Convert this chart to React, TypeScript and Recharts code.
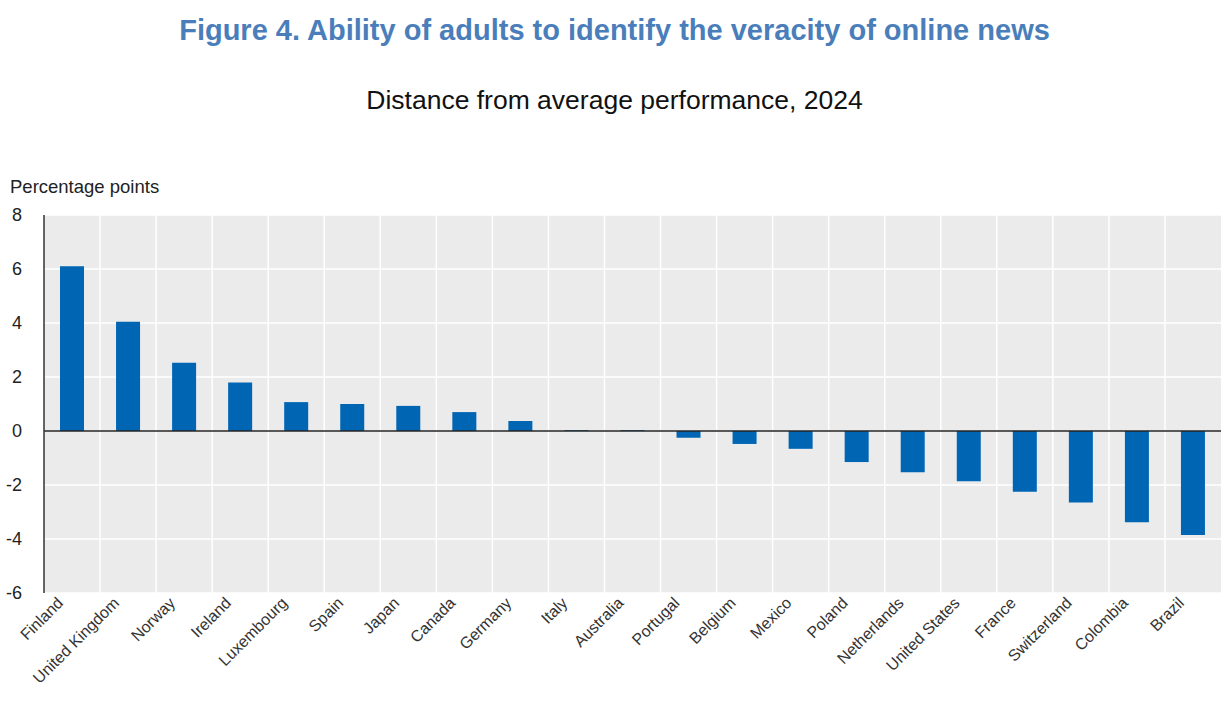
import {
  BarChart, Bar, XAxis, YAxis, CartesianGrid, ReferenceLine,
} from 'recharts';

const COUNTRIES = [
  'Finland', 'United Kingdom', 'Norway', 'Ireland', 'Luxembourg', 'Spain', 'Japan',
  'Canada', 'Germany', 'Italy', 'Australia', 'Portugal', 'Belgium', 'Mexico',
  'Poland', 'Netherlands', 'United States', 'France', 'Switzerland', 'Colombia', 'Brazil',
];

const DISTANCE = [
  6.1, 4.05, 2.53, 1.8, 1.07, 1.0, 0.93,
  0.7, 0.37, 0.03, 0.03, -0.25, -0.48, -0.66,
  -1.15, -1.53, -1.86, -2.25, -2.65, -3.38, -3.85,
];

const Y_TICKS = [-6, -4, -2, 0, 2, 4, 6, 8];

const data = COUNTRIES.map((name, i) => ({ name, value: DISTANCE[i] }));

const SANS = '"Liberation Sans", Arial, sans-serif';

function CountryTick({ x, y, payload }: any) {
  return (
    <g transform={`translate(${x - 8},${y + 3})`}>
      <text textAnchor="end" transform="rotate(-45)" fontSize={16} fill="#333" fontFamily={SANS}>
        {payload.value}
      </text>
    </g>
  );
}

// vertical white lines sit between categories, not on them
function boundaryLines({ offset }: any) {
  const step = offset.width / COUNTRIES.length;
  return COUNTRIES.map((_, i) => offset.left + (i + 1) * step).slice(0, -1);
}

export default function App() {
  return (
    <div style={{ position: 'absolute', left: 0, top: 0, width: 1221, height: 703, background: '#fff' }}>
      <div style={{
        position: 'absolute', top: 14, left: 0, width: 1229, textAlign: 'center',
        fontFamily: SANS, fontWeight: 'bold', fontSize: 29, color: '#4a7ebb',
      }}>
        Figure 4. Ability of adults to identify the veracity of online news
      </div>
      <div style={{
        position: 'absolute', top: 85, left: 0, width: 1229, textAlign: 'center',
        fontFamily: SANS, fontSize: 26.5, color: '#111',
      }}>
        Distance from average performance, 2024
      </div>
      <div style={{
        position: 'absolute', top: 176, left: 10, fontFamily: SANS, fontSize: 18.5, color: '#222',
      }}>
        Percentage points
      </div>

      <div style={{ position: 'absolute', left: 0, top: 0 }}>
        <BarChart width={1221} height={703} data={data}
                  margin={{ top: 215, right: 0, bottom: 0, left: 0 }}>
          <CartesianGrid fill="#ebebeb" stroke="#ffffff" strokeWidth={1.5}
                         verticalCoordinatesGenerator={boundaryLines} />
          <XAxis dataKey="name" interval={0} axisLine={false} tickLine={false}
                 tick={<CountryTick />} height={110} />
          <YAxis domain={[-6, 8]} ticks={Y_TICKS} width={44} interval={0}
                 axisLine={{ stroke: '#333', strokeWidth: 1.5 }} tickLine={false} tickMargin={16}
                 tick={{ fontSize: 18, fill: '#222', fontFamily: SANS }} />
          <ReferenceLine y={0} stroke="#222" strokeWidth={1.5} />
          <Bar dataKey="value" fill="#0066b3" barSize={24} isAnimationActive={false} />
        </BarChart>
      </div>
    </div>
  );
}
